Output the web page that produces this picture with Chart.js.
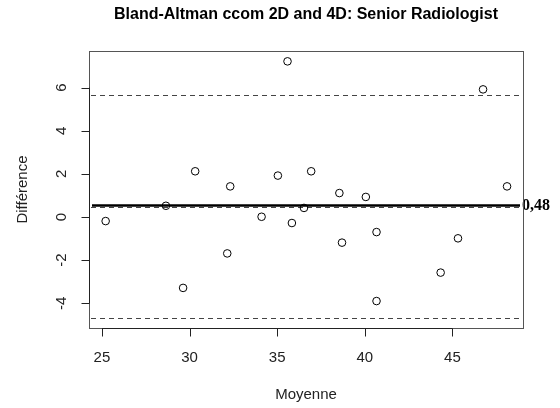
<!DOCTYPE html>
<html>
<head>
<meta charset="utf-8">
<script src="https://cdn.jsdelivr.net/npm/chart.js@4.4.0/dist/chart.umd.min.js"></script>
<style>
  html, body { margin: 0; padding: 0; background: #fff; }
  #wrap { width: 560px; height: 408px; position: relative; }
</style>
</head>
<body>
<div id="wrap"><canvas id="ba"></canvas></div>
<script>
// Moyenne (x) and Différence (y) for each pair
const moyenne = [25.21, 28.65, 30.32, 29.63, 32.32, 32.15, 34.11, 35.04, 35.59, 35.84, 36.53,
  36.94, 38.55, 38.70, 40.06, 40.67, 40.67, 44.33, 45.32, 46.75, 48.12];
const difference = [-0.19, 0.52, 2.12, -3.29, 1.42, -1.69, 0.01, 1.92, 7.22, -0.28, 0.42,
  2.12, 1.11, -1.19, 0.93, -0.70, -3.90, -2.58, -0.99, 5.92, 1.42];

const xTicks = [25, 30, 35, 40, 45];
const yTicks = [-4, -2, 0, 2, 4, 6];

// mean line and limits of agreement
const meanLine = 0.53;
const meanLabel = '0,48';
const dashedLines = [0.48, 5.66, -4.70];

const points = moyenne.map((m, i) => ({ x: m, y: difference[i] }));

const rAxes = {
  id: 'rAxes',
  beforeDatasetsDraw(chart) {
    const { ctx, chartArea: a, scales: { x, y } } = chart;
    ctx.save();
    // dashed limits
    ctx.strokeStyle = '#444';
    ctx.lineWidth = 1;
    ctx.setLineDash([5, 4]);
    dashedLines.forEach(v => {
      const py = Math.round(y.getPixelForValue(v)) + 0.5;
      ctx.beginPath();
      ctx.moveTo(a.left + 2, py);
      ctx.lineTo(a.right - 2, py);
      ctx.stroke();
    });
    ctx.setLineDash([]);
    // mean line
    const my = y.getPixelForValue(meanLine);
    ctx.strokeStyle = '#000';
    ctx.lineWidth = 2.6;
    ctx.beginPath();
    ctx.moveTo(a.left + 3, my);
    ctx.lineTo(a.right - 3, my);
    ctx.stroke();
    ctx.fillStyle = '#000';
    ctx.font = 'bold 16px "Liberation Serif"';
    ctx.textAlign = 'left';
    ctx.textBaseline = 'middle';
    ctx.fillText(meanLabel, a.right - 1, my);
    ctx.restore();
  },
  afterDraw(chart) {
    const { ctx, chartArea: a, scales: { x, y } } = chart;
    ctx.save();
    // box
    ctx.strokeStyle = '#555';
    ctx.lineWidth = 1;
    ctx.strokeRect(a.left + 0.5, a.top + 0.5, a.right - a.left, a.bottom - a.top);
    ctx.strokeStyle = '#222';
    ctx.fillStyle = '#222';
    ctx.font = '15px "Liberation Sans"';
    // x axis
    const x0 = x.getPixelForValue(xTicks[0]);
    const x1 = x.getPixelForValue(xTicks[xTicks.length - 1]);
    const by = a.bottom + 0.5;
    ctx.beginPath();
    ctx.moveTo(x0, by);
    ctx.lineTo(x1, by);
    xTicks.forEach(t => {
      const px = Math.round(x.getPixelForValue(t)) + 0.5;
      ctx.moveTo(px, by);
      ctx.lineTo(px, by + 8);
    });
    ctx.stroke();
    ctx.textAlign = 'center';
    ctx.textBaseline = 'middle';
    xTicks.forEach(t => ctx.fillText(String(t), x.getPixelForValue(t), a.bottom + 30));
    // y axis
    const lx = a.left + 0.5;
    ctx.beginPath();
    ctx.moveTo(lx, y.getPixelForValue(yTicks[0]));
    ctx.lineTo(lx, y.getPixelForValue(yTicks[yTicks.length - 1]));
    yTicks.forEach(t => {
      const py = Math.round(y.getPixelForValue(t)) + 0.5;
      ctx.moveTo(lx, py);
      ctx.lineTo(lx - 8, py);
    });
    ctx.stroke();
    yTicks.forEach(t => {
      ctx.save();
      ctx.translate(a.left - 27, y.getPixelForValue(t));
      ctx.rotate(-Math.PI / 2);
      ctx.fillText(String(t), 0, 0);
      ctx.restore();
    });
    // axis titles
    ctx.fillText('Moyenne', (a.left + a.right) / 2, 395);
    ctx.save();
    ctx.translate(23, (a.top + a.bottom) / 2);
    ctx.rotate(-Math.PI / 2);
    ctx.fillText('Différence', 0, 0);
    ctx.restore();
    // main title
    ctx.fillStyle = '#000';
    ctx.font = 'bold 16px "Liberation Sans"';
    ctx.fillText('Bland-Altman ccom 2D and 4D: Senior Radiologist', (a.left + a.right) / 2, 15);
    ctx.restore();
  }
};

new Chart(document.getElementById('ba'), {
  type: 'scatter',
  data: {
    datasets: [{
      data: points,
      pointStyle: 'circle',
      pointRadius: 3.8,
      pointBorderWidth: 1,
      pointBorderColor: '#000',
      pointBackgroundColor: 'rgba(0,0,0,0)',
    }],
  },
  options: {
    responsive: true,
    maintainAspectRatio: false,
    animation: false,
    layout: { padding: { left: 89, right: 37, top: 51, bottom: 80 } },
    scales: {
      x: { display: false, min: 24.26, max: 49.03 },
      y: { display: false, min: -5.15, max: 7.70 },
    },
    plugins: {
      legend: { display: false },
      tooltip: { enabled: false },
    },
  },
  plugins: [rAxes],
});
</script>
</body>
</html>
